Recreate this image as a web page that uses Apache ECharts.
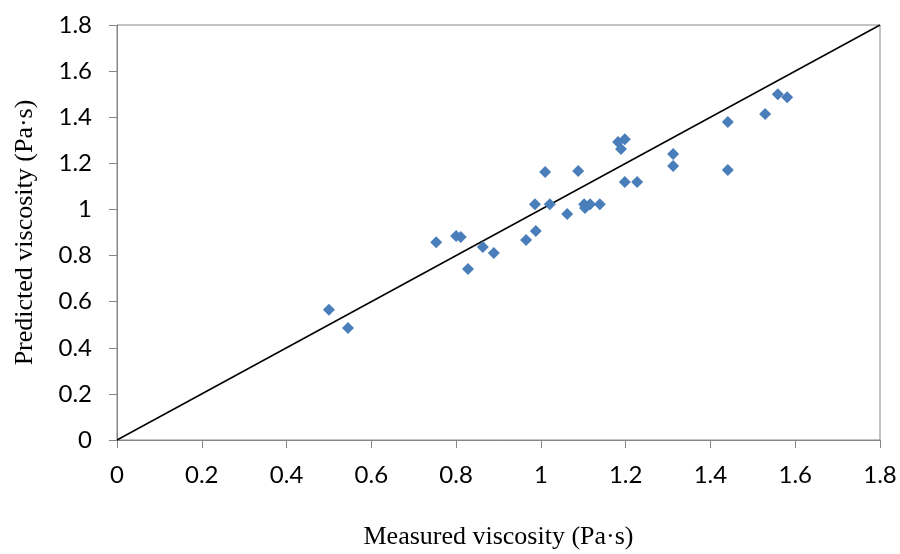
<!DOCTYPE html>
<html>
<head>
<meta charset="utf-8">
<script src="https://cdn.jsdelivr.net/npm/echarts@6/dist/echarts.min.js"></script>
<style>html,body{margin:0;padding:0;background:#fff}#c{width:900px;height:554px}</style>
</head>
<body>
<div id="c"></div>
<script>
const measured = [0.500,0.545,0.753,0.800,0.811,0.828,0.863,0.889,0.965,0.986,0.988,1.010,1.021,1.062,1.088,1.102,1.104,1.116,1.139,1.182,1.189,1.198,1.198,1.227,1.312,1.312,1.441,1.441,1.529,1.559,1.581];
const predicted = [0.565,0.486,0.858,0.885,0.880,0.742,0.837,0.811,0.867,1.023,0.906,1.162,1.023,0.980,1.167,1.023,1.006,1.023,1.023,1.292,1.262,1.305,1.119,1.119,1.240,1.188,1.379,1.171,1.414,1.500,1.487];
const lineX = [0, 1.8];
const lineY = [0, 1.8];
const xTitle = 'Measured viscosity (Pa·s)';
const yTitle = 'Predicted viscosity (Pa·s)';

const chart = echarts.init(document.getElementById('c'), null, {renderer: 'canvas'});
const axisCommon = {
  min: 0, max: 1.8, interval: 0.2,
  axisLine: {show: true, onZero: false, lineStyle: {color: '#868686', width: 1}},
  axisTick: {show: true, inside: false, length: 8, lineStyle: {color: '#868686'}},
  splitLine: {show: false},
  nameTextStyle: {fontFamily: 'Liberation Serif', fontSize: 26, color: '#000'}
};
chart.setOption({
  animation: false,
  backgroundColor: '#fff',
  grid: {left: 117, right: 20, top: 25, bottom: 114, show: true, borderColor: '#868686', borderWidth: 1, containLabel: false, outerBoundsMode: 'none'},
  xAxis: Object.assign({}, axisCommon, {
    type: 'value',
    name: xTitle, nameLocation: 'middle', nameGap: 84,
    axisLabel: {margin: 23, fontFamily: 'Lato', fontSize: 24, color: '#000'}
  }),
  yAxis: Object.assign({}, axisCommon, {
    type: 'value',
    name: yTitle, nameLocation: 'middle', nameGap: 79,
    axisLabel: {margin: 25, fontFamily: 'Lato', fontSize: 24, color: '#000'}
  }),
  series: [
    {
      type: 'line',
      data: lineX.map((x, i) => [x, lineY[i]]),
      showSymbol: false,
      symbol: 'none',
      lineStyle: {color: '#000', width: 1.5},
      z: 1
    },
    {
      type: 'scatter',
      data: measured.map((x, i) => [x, predicted[i]]),
      symbol: 'diamond',
      symbolSize: [12, 12],
      itemStyle: {color: '#4A7EBB', opacity: 1},
      z: 2
    }
  ]
});
</script>
</body>
</html>
